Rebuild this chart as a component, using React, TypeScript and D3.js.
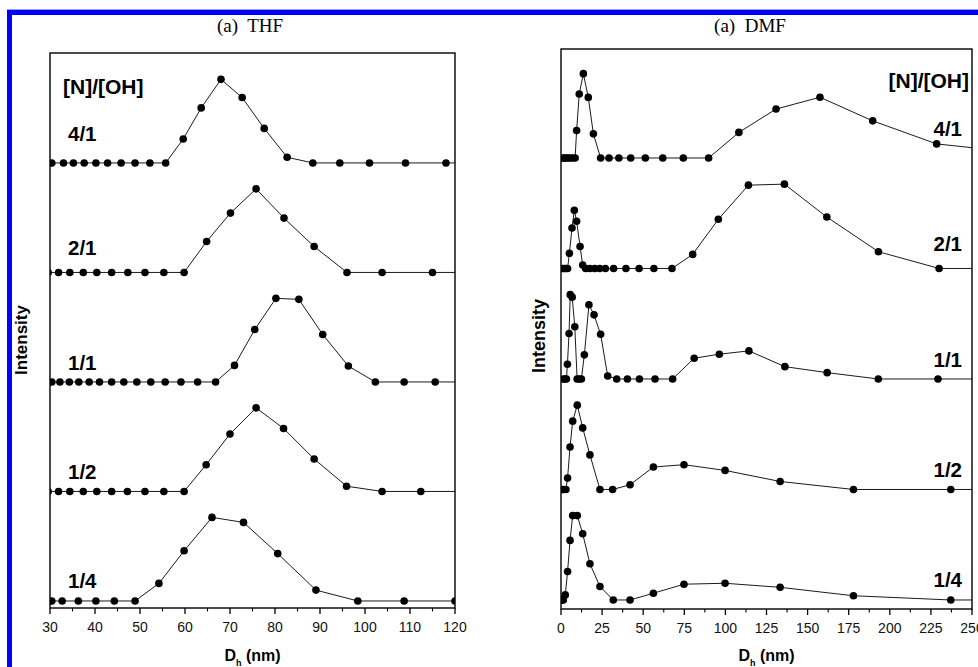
import React from 'react';
import * as d3 from 'd3';

// Hydrodynamic diameter distributions, D_h in nm against normalised intensity (0-100).
// Curves are listed top to bottom by [N]/[OH] ratio.
const ratioLabels = ['4/1', '2/1', '1/1', '1/2', '1/4'];

// THF
const thf41X = [30.4, 33.0, 35.2, 37.6, 40.2, 42.8, 45.8, 48.9, 52.2, 55.7, 59.6, 63.6, 68.0, 72.7, 77.6, 82.7, 88.4, 94.4, 101.0, 109.0, 118.0, 128];
const thf41Y = [0, 0, 0, 0, 0, 0, 0, 0, 0, 0, 28.6, 65.8, 100, 78.2, 41.3, 6.8, 0, 0, 0, 0, 0, 0];
const thf21X = [29.6, 31.9, 34.4, 37.4, 40.4, 43.7, 47.3, 51.1, 55.3, 59.8, 64.8, 70.1, 75.8, 82.0, 88.7, 96.0, 103.8, 115.0, 128];
const thf21Y = [0, 0, 0, 0, 0, 0, 0, 0, 0, 0, 37, 71, 100, 65, 31, 0, 0, 0, 0];
const thf11X = [30.4, 32.2, 34.3, 36.4, 38.7, 41.0, 43.7, 46.4, 49.3, 52.4, 55.6, 59.1, 62.8, 66.8, 71.0, 75.5, 80.2, 85.3, 90.6, 96.3, 102.3, 108.7, 115.6, 123];
const thf11Y = [0, 0, 0, 0, 0, 0, 0, 0, 0, 0, 0, 0, 0, 0, 19.8, 62.7, 100, 98.8, 56.8, 19, 0, 0, 0, 0];
const thf12X = [29.6, 31.9, 34.4, 37.4, 40.4, 43.7, 47.2, 51.1, 55.3, 59.8, 64.7, 70.0, 75.8, 81.9, 88.7, 95.9, 103.8, 112.4, 122];
const thf12Y = [0, 0, 0, 0, 0, 0, 0, 0, 0, 0, 32, 68.7, 100, 75.4, 38.9, 6.3, 0, 0, 0];
const thf14X = [30.4, 32.7, 36.3, 40.2, 44.3, 48.9, 54.2, 59.8, 66.0, 73.0, 80.6, 89.1, 98.4, 108.7, 120];
const thf14Y = [0, 0, 0, 0, 0, 0, 21, 60, 100, 94, 56.7, 13, 0, 0, 0];

// DMF
const dmf41X = [1, 2, 3, 4.2, 5.5, 7, 8.6, 9.5, 11.1, 13.6, 16.6, 19.7, 24.1, 29.2, 35.2, 42.4, 51.3, 61.9, 74.4, 89.8, 108.2, 130.8, 157.5, 189.6, 228.5, 280];
const dmf41Y = [0, 0, 0, 0, 0, 0, 0, 32.5, 75.8, 100, 71.8, 28.6, 0, 0, 0, 0, 0, 0, 0, 0, 30.3, 58, 72, 44, 16.7, 6];
const dmf21X = [1, 2, 3, 4, 5.1, 6.7, 8.1, 9.5, 11.6, 13.2, 15.0, 17.5, 20.5, 23.5, 27, 32, 39.5, 47.5, 56.5, 67.5, 80.1, 95.7, 114, 135.9, 161.7, 193.1, 230, 280];
const dmf21Y = [0, 0, 0, 0, 18, 48, 69, 56, 26, 4, 0, 0, 0, 0, 0, 0, 0, 0, 0, 0, 16.7, 58.3, 98.8, 100, 61, 19.9, 0, 0];
const dmf11X = [1.5, 2.5, 3.3, 3.9, 4.9, 5.6, 6.8, 8.4, 9.8, 11.0, 12.4, 14.2, 17.0, 20.1, 24.1, 28.4, 33.9, 40.4, 47.7, 57.2, 67.9, 81, 96.3, 114.3, 136.2, 161.9, 193, 229.3, 280];
const dmf11Y = [0, 0, 0, 17.5, 54, 100, 97, 62, 0, 0, 0, 28.6, 88, 76, 53, 3.6, 0, 0, 0, 0, 0, 24.6, 29.4, 33.3, 14.6, 7.5, 0, 0, 0];
const dmf12X = [0.6, 1.4, 3.0, 4.0, 5.5, 7.1, 9.9, 13.2, 17.6, 23.7, 31.4, 42, 56.2, 74.8, 99.8, 133.3, 177.9, 237.1, 280];
const dmf12Y = [0, 0, 0, 13.5, 50.4, 81, 100, 73, 41, 0, 0, 5.6, 26.6, 29.4, 22.6, 9.5, 0, 0, 0];
const dmf14X = [0.6, 1.4, 2.6, 4.0, 5.5, 7.1, 9.9, 13.2, 17.6, 23.7, 31.8, 42, 56.2, 74.8, 99.8, 133.3, 177.9, 237.1, 280];
const dmf14Y = [0, 0, 6, 33.7, 70.6, 100, 100, 78.6, 42.9, 15.9, 0, 0, 8, 18.7, 19.8, 15, 5, 0, 0];

const thfMajorTicks = [30, 40, 50, 60, 70, 80, 90, 100, 110, 120];
const dmfMajorTicks = [0, 25, 50, 75, 100, 125, 150, 175, 200, 225, 250];

const W = 978;
const H = 667;
const STEP = 131; // stacking offset between curves, intensity units
const FONT = '"Liberation Sans", Arial, Helvetica, sans-serif';
const SERIF = '"Liberation Serif", "Times New Roman", serif';
const labelLift = [22, 17, 12, 12, 13];

type Series = { xs: number[]; ys: number[] };

type PanelProps = {
  id: string;
  title: string;
  titleX: number;
  box: { x0: number; x1: number; y0: number; y1: number };
  xDomain: [number, number];
  yDomain: [number, number];
  series: Series[];
  major: number[];
  minorStep: number;
  labelSide: 'left' | 'right';
  labelX: number;
  headerY: number;
  yTitleX: number;
  yTitleY: number;
  yTitleSize: number;
};

function Panel(p: PanelProps) {
  const { box } = p;
  const x = d3.scaleLinear().domain(p.xDomain).range([box.x0, box.x1]);
  const y = d3.scaleLinear().domain(p.yDomain).range([box.y1, box.y0]);
  const minor = d3
    .range(p.xDomain[0] + p.minorStep, p.xDomain[1], p.minorStep * 2)
    .filter((v) => !p.major.includes(v));
  const n = p.series.length;
  const anchor = p.labelSide === 'left' ? 'start' : 'end';
  const cx = (box.x0 + box.x1) / 2;

  return (
    <g>
      <defs>
        <clipPath id={`clip-${p.id}`}>
          <rect x={box.x0} y={box.y0} width={box.x1 - box.x0} height={box.y1 - box.y0} />
        </clipPath>
      </defs>
      <text x={p.titleX} y={32} textAnchor="middle" fontFamily={SERIF} fontSize={19} style={{ whiteSpace: 'pre' }}>
        {p.title}
      </text>
      <g clipPath={`url(#clip-${p.id})`}>
        {p.series.map((s, i) => {
          const off = (n - 1 - i) * STEP;
          const pts: [number, number][] = s.xs.map((v, k) => [v, s.ys[k] + off]);
          const line = d3
            .line<[number, number]>()
            .x((d) => x(d[0]))
            .y((d) => y(d[1]));
          return (
            <g key={i}>
              <path d={line(pts) || ''} fill="none" stroke="#000" strokeWidth={0.9} />
              {pts.map((d, k) => (
                <circle key={k} cx={x(d[0])} cy={y(d[1])} r={3.8} fill="#000" />
              ))}
            </g>
          );
        })}
      </g>
      {ratioLabels.map((lab, i) => (
        <text
          key={lab}
          x={p.labelX}
          y={y((n - 1 - i) * STEP) - labelLift[i]}
          textAnchor={anchor}
          fontFamily={FONT}
          fontWeight="bold"
          fontSize={20.5}
        >
          {lab}
        </text>
      ))}
      <text
        x={p.labelSide === 'left' ? p.labelX - 5 : p.labelX + 7}
        y={p.headerY}
        textAnchor={anchor}
        fontFamily={FONT}
        fontWeight="bold"
        fontSize={21}
      >
        [N]/[OH]
      </text>
      <rect
        x={box.x0}
        y={box.y0}
        width={box.x1 - box.x0}
        height={box.y1 - box.y0}
        fill="none"
        stroke="#000"
        strokeWidth={1.4}
      />
      {p.major.map((v) => (
        <g key={`M${v}`}>
          <line x1={x(v)} x2={x(v)} y1={box.y1} y2={box.y1 + 6} stroke="#000" strokeWidth={1.3} />
          <text x={x(v)} y={box.y1 + 24} textAnchor="middle" fontFamily={FONT} fontSize={14} fill="#111">
            {v}
          </text>
        </g>
      ))}
      {minor.map((v) => (
        <line key={`m${v}`} x1={x(v)} x2={x(v)} y1={box.y1} y2={box.y1 + 3.5} stroke="#000" strokeWidth={1.1} />
      ))}
      <text x={cx} y={661} textAnchor="middle" fontFamily={FONT} fontWeight="bold" fontSize={16}>
        D
        <tspan fontSize={9} dy={5}>h</tspan>
        <tspan dy={-5}> (nm)</tspan>
      </text>
      <text
        transform={`translate(${p.yTitleX},${p.yTitleY}) rotate(-90)`}
        textAnchor="middle"
        fontFamily={FONT}
        fontWeight="bold"
        fontSize={p.yTitleSize}
      >
        Intensity
      </text>
    </g>
  );
}

export default function App() {
  const thfSeries: Series[] = [
    { xs: thf41X, ys: thf41Y },
    { xs: thf21X, ys: thf21Y },
    { xs: thf11X, ys: thf11Y },
    { xs: thf12X, ys: thf12Y },
    { xs: thf14X, ys: thf14Y },
  ];
  const dmfSeries: Series[] = [
    { xs: dmf41X, ys: dmf41Y },
    { xs: dmf21X, ys: dmf21Y },
    { xs: dmf11X, ys: dmf11Y },
    { xs: dmf12X, ys: dmf12Y },
    { xs: dmf14X, ys: dmf14Y },
  ];

  return (
    <svg
      width={W}
      height={H}
      viewBox={`0 0 ${W} ${H}`}
      style={{ position: 'absolute', left: 0, top: 0, background: '#fff' }}
    >
      <rect x={0} y={0} width={W} height={H} fill="#fff" />
      {/* blue frame */}
      <rect x={7} y={9} width={W - 7} height={1} fill="#9a9aff" />
      <rect x={7} y={10} width={W - 7} height={5} fill="#0000ff" />
      <rect x={7} y={10} width={5} height={H - 10} fill="#0000ff" />
      <Panel
        id="thf"
        title="(a)  THF"
        titleX={250}
        box={{ x0: 50, x1: 455, y0: 53, y1: 608 }}
        xDomain={[30, 120]}
        yDomain={[-8.4, 655.5]}
        series={thfSeries}
        major={thfMajorTicks}
        minorStep={5}
        labelSide="left"
        labelX={68}
        headerY={94}
        yTitleX={27}
        yTitleY={340}
        yTitleSize={17}
      />
      <Panel
        id="dmf"
        title="(a)  DMF"
        titleX={750}
        box={{ x0: 561, x1: 972, y0: 49, y1: 609 }}
        xDomain={[0, 250]}
        yDomain={[-10.7, 653.2]}
        series={dmfSeries}
        major={dmfMajorTicks}
        minorStep={12.5}
        labelSide="right"
        labelX={962}
        headerY={88}
        yTitleX={545}
        yTitleY={336}
        yTitleSize={18}
      />
    </svg>
  );
}
